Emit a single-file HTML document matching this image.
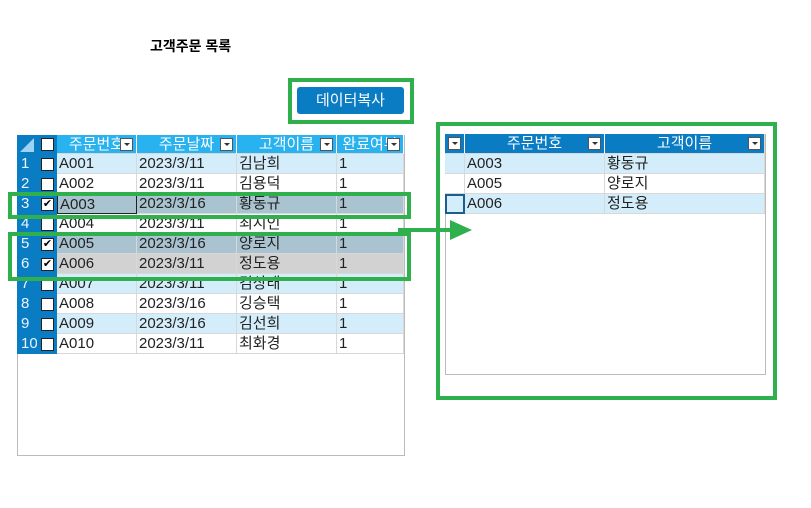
<!DOCTYPE html><html><head><meta charset="utf-8"><style>
body{margin:0;width:811px;height:508px;background:#fff;position:relative;font-family:"Liberation Sans","Noto Sans CJK KR",sans-serif;overflow:hidden}
.a{position:absolute;box-sizing:border-box}
.c{position:absolute;box-sizing:border-box;font-size:15px;line-height:19px;color:#222;white-space:nowrap;overflow:hidden;padding-left:2px;border-right:1px solid #d8d8d8;border-bottom:1px solid #d8d8d8;height:20px}
.h{color:#fff;text-align:center;padding:0}
.dd{position:absolute;width:13px;height:13px;background:#fff;border:1px solid #555;box-sizing:border-box;top:3px}
.dd:after{content:"";position:absolute;left:3px;top:4px;border-left:3px solid transparent;border-right:3px solid transparent;border-top:3px solid #333}
.cb{position:absolute;left:41px;width:13px;height:13px;border:1px solid #222;background:#fff;box-sizing:border-box;font-size:11px;line-height:11px;text-align:center;color:#000}
.rn{text-align:left;padding-left:4px;background:#0a7cc4;border:none;color:#eaf6ff}
.g{position:absolute;border:4px solid #2fb04c;box-sizing:border-box}
</style></head><body>
<div class="a" style="left:150px;top:36px;font-size:14px;font-weight:bold">고객주문 목록</div>

<div class="a" style="left:17px;top:135px;width:388px;height:321px;border:1px solid #bbb"></div>
<div id="L"></div>

<div class="a" style="left:297px;top:87px;width:107px;height:27px;background:#0a7cc4;border-radius:3px;color:#fff;font-size:15px;text-align:center;line-height:27px">데이터복사</div>
<div class="g" style="left:288px;top:78px;width:126px;height:46px"></div>

<div class="a" style="left:445px;top:134px;width:321px;height:241px;border:1px solid #bbb"></div>
<div id="R"></div>

<div class="g" style="left:8px;top:192px;width:403px;height:27px"></div>
<div class="g" style="left:8px;top:232px;width:403px;height:49px"></div>
<div class="g" style="left:436px;top:122px;width:341px;height:278px"></div>
<div class="a" style="left:398px;top:228px;width:54px;height:4px;background:#2fb04c"></div>
<div class="a" style="left:450px;top:220px;width:0;height:0;border-top:10px solid transparent;border-bottom:10px solid transparent;border-left:22px solid #2fb04c"></div>

<script>
var L=document.getElementById('L'),s='';
s+='<div class="c h" style="left:17px;top:135px;width:40px;height:19px;background:#0a7cc4;border:none"><div style="position:absolute;left:3px;top:3px;border-left:14px solid transparent;border-bottom:14px solid #9fd3f3"></div></div><div class="cb" style="top:138px"></div>';
var hc=[[57,80,'주문번호'],[137,100,'주문날짜'],[237,100,'고객이름'],[337,67,'완료여부']];
hc.forEach(function(h){s+='<div class="c h" style="left:'+h[0]+'px;top:135px;width:'+h[1]+'px;height:19px;background:#29b2f0;border-right:1px solid #fff">'+h[2]+'<div class="dd" style="right:3px"></div></div>';});
var d=[['A001','2023/3/11','김남희'],['A002','2023/3/11','김용덕'],['A003','2023/3/16','황동규'],['A004','2023/3/11','최시인'],['A005','2023/3/16','양로지'],['A006','2023/3/11','정도용'],['A007','2023/3/11','김상태'],['A008','2023/3/16','깅승택'],['A009','2023/3/16','김선희'],['A010','2023/3/11','최화경']];
d.forEach(function(r,i){var y=154+i*20;var bg=i%2==0?'#d3eefa':'#fff';if(i==2||i==4)bg='#a9c4d0';if(i==5)bg='#d2d2d2';var chk=(i==2||i==4||i==5);
s+='<div class="c rn" style="left:17px;top:'+y+'px;width:20px">'+(i+1)+'</div><div class="c" style="left:37px;top:'+y+'px;width:20px;background:#0a7cc4;border:none"></div><div class="cb" style="top:'+(y+4)+'px">'+(chk?'✔':'')+'</div>';
var x=[57,137,237,337],w=[80,100,100,67],v=[r[0],r[1],r[2],'1'];
for(var k=0;k<4;k++){var st=(i==2&&k==0)?';border:1px solid #222':'';s+='<div class="c" style="left:'+x[k]+'px;top:'+y+'px;width:'+w[k]+'px;background:'+bg+st+'">'+v[k]+'</div>';}});
L.innerHTML=s;
var R=document.getElementById('R');s='';
s+='<div class="c h" style="left:445px;top:134px;width:20px;background:#0a7cc4;border-right:1px solid #fff"><div class="dd" style="left:3px"></div></div>';
s+='<div class="c h" style="left:465px;top:134px;width:140px;background:#0a7cc4;border-right:1px solid #fff">주문번호<div class="dd" style="right:3px"></div></div>';
s+='<div class="c h" style="left:605px;top:134px;width:160px;background:#0a7cc4">고객이름<div class="dd" style="right:3px"></div></div>';
[['A003','황동규'],['A005','양로지'],['A006','정도용']].forEach(function(r,i){var y=154+i*20,bg=i%2==0?'#d3eefa':'#fff';
s+='<div class="c" style="left:445px;top:'+y+'px;width:20px;background:'+bg+(i==2?';border:2px solid #1b5e8c':'')+'"></div><div class="c" style="left:465px;top:'+y+'px;width:140px;background:'+bg+'">'+r[0]+'</div><div class="c" style="left:605px;top:'+y+'px;width:160px;background:'+bg+'">'+r[1]+'</div>';});
R.innerHTML=s;
</script>
</body></html>
